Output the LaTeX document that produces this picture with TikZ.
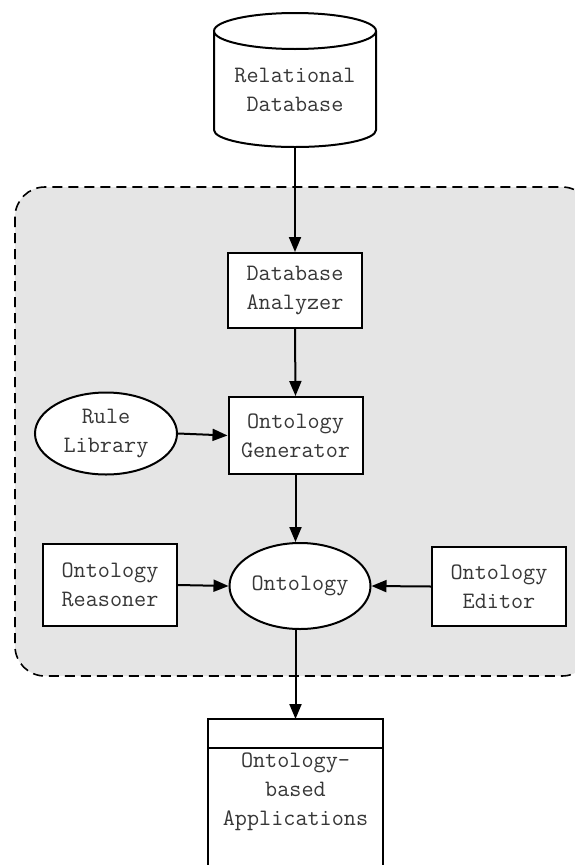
\documentclass[tikz,border=0pt]{standalone}
\usetikzlibrary{arrows.meta,shapes.geometric}
\definecolor{panelgray}{RGB}{229,229,229}
\definecolor{textgray}{RGB}{55,55,55}
\begin{document}
\begin{tikzpicture}[x=1pt,y=-1pt,
  every node/.style={font=\ttfamily\fontsize{23.5}{29}\selectfont, text=textgray, align=center, inner sep=0pt},
  line/.style={line width=2pt, draw=black},
  box/.style={line, rectangle, fill=white, minimum width=134pt},
  oval/.style={line, ellipse, fill=white},
  flow/.style={line, -{Triangle[length=15pt,width=12pt]}}
]
\useasboundingbox (0,0) rectangle (574,865);

% shaded region holding the system components
\draw[line width=1.6pt, dash pattern=on 10pt off 6pt, rounded corners=30pt, fill=panelgray]
  (15,187) rectangle (592,676);

% relational database cylinder
\draw[line, fill=white] (214,31) -- (214,130)
  arc[start angle=180, end angle=0, x radius=81, y radius=17] -- (376,31);
\draw[line, fill=white] (295,31) ellipse[x radius=81, y radius=18];
\node (db) at (295,90) {Relational\\Database};
\coordinate (dbbot) at (295,147);

% processing components
\node[box, minimum height=75pt] (analyzer) at (295,290.5) {Database\\Analyzer};
\node[box, minimum height=77pt] (generator) at (295.5,435.5) {Ontology\\Generator};
\node[oval, minimum width=142pt, minimum height=82pt] (rule) at (106,433.5) {Rule\\Library};
\node[oval, minimum width=141pt, minimum height=86pt] (ontology) at (300,586) {Ontology};
\node[box, minimum height=82pt] (reasoner) at (110,585) {Ontology\\Reasoner};
\node[box, minimum height=79pt] (editor) at (499,586.5) {Ontology\\Editor};

% application box, running off the bottom edge
\draw[line, fill=white] (208,890) -- (208,719) -- (383,719) -- (383,890);
\draw[line] (208,748) -- (383,748);
\coordinate (apptop) at (295.5,719);
\node (apps) at (295.5,792) {Ontology-\\based\\Applications};

% data flow
\draw[flow] (dbbot) -- (analyzer.north);
\draw[flow] (analyzer.south) -- (generator.north);
\draw[flow] (rule.east) -- (generator.west);
\draw[flow] (generator.south) -- (generator.south |- ontology.north);
\draw[flow] (reasoner.east) -- (ontology.west);
\draw[flow] (editor.west) -- (ontology.east);
\draw[flow] (apptop |- ontology.south) -- (apptop);
\end{tikzpicture}
\end{document}
